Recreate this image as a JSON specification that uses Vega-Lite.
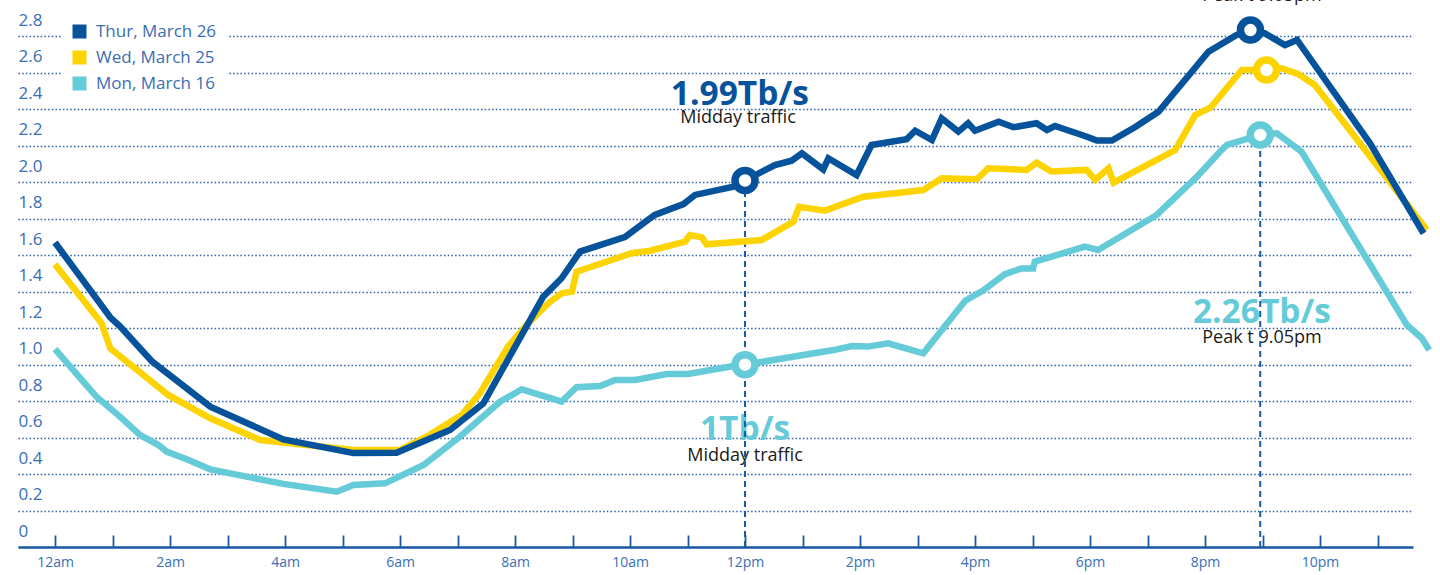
{
  "$schema": "https://vega.github.io/schema/vega-lite/v6.json",
  "width": 1395,
  "height": 547,
  "autosize": {"type": "none"},
  "padding": {"left": 18, "top": 0, "right": 27, "bottom": 28},
  "background": "white",
  "config": {"view": {"stroke": null}, "font": "Open Sans"},
  "datasets": {
    "traffic": [
      {"series": "Mon, March 16", "h": 0, "v": 1.085},
      {"series": "Mon, March 16", "h": 0.72, "v": 0.824},
      {"series": "Mon, March 16", "h": 1.13, "v": 0.715},
      {"series": "Mon, March 16", "h": 1.48, "v": 0.614},
      {"series": "Mon, March 16", "h": 1.8, "v": 0.559},
      {"series": "Mon, March 16", "h": 1.94, "v": 0.523},
      {"series": "Mon, March 16", "h": 2.29, "v": 0.481},
      {"series": "Mon, March 16", "h": 2.7, "v": 0.426},
      {"series": "Mon, March 16", "h": 3.97, "v": 0.346},
      {"series": "Mon, March 16", "h": 4.9, "v": 0.303},
      {"series": "Mon, March 16", "h": 5.19, "v": 0.34},
      {"series": "Mon, March 16", "h": 5.74, "v": 0.349},
      {"series": "Mon, March 16", "h": 6.41, "v": 0.45},
      {"series": "Mon, March 16", "h": 7.04, "v": 0.605},
      {"series": "Mon, March 16", "h": 7.74, "v": 0.797},
      {"series": "Mon, March 16", "h": 8.12, "v": 0.865},
      {"series": "Mon, March 16", "h": 8.81, "v": 0.797},
      {"series": "Mon, March 16", "h": 9.07, "v": 0.876},
      {"series": "Mon, March 16", "h": 9.48, "v": 0.883},
      {"series": "Mon, March 16", "h": 9.74, "v": 0.916},
      {"series": "Mon, March 16", "h": 10.09, "v": 0.916},
      {"series": "Mon, March 16", "h": 10.64, "v": 0.949},
      {"series": "Mon, March 16", "h": 11.01, "v": 0.949},
      {"series": "Mon, March 16", "h": 11.8, "v": 0.993},
      {"series": "Mon, March 16", "h": 12, "v": 1.0},
      {"series": "Mon, March 16", "h": 13.54, "v": 1.08},
      {"series": "Mon, March 16", "h": 13.86, "v": 1.102},
      {"series": "Mon, March 16", "h": 14.14, "v": 1.099},
      {"series": "Mon, March 16", "h": 14.49, "v": 1.117},
      {"series": "Mon, March 16", "h": 15.1, "v": 1.062},
      {"series": "Mon, March 16", "h": 15.83, "v": 1.351},
      {"series": "Mon, March 16", "h": 16.14, "v": 1.406},
      {"series": "Mon, March 16", "h": 16.52, "v": 1.497},
      {"series": "Mon, March 16", "h": 16.81, "v": 1.528},
      {"series": "Mon, March 16", "h": 17.01, "v": 1.528},
      {"series": "Mon, March 16", "h": 17.04, "v": 1.565},
      {"series": "Mon, March 16", "h": 17.91, "v": 1.647},
      {"series": "Mon, March 16", "h": 18.14, "v": 1.629},
      {"series": "Mon, March 16", "h": 19.16, "v": 1.821},
      {"series": "Mon, March 16", "h": 19.86, "v": 2.031},
      {"series": "Mon, March 16", "h": 20.26, "v": 2.168},
      {"series": "Mon, March 16", "h": 20.38, "v": 2.205},
      {"series": "Mon, March 16", "h": 20.96, "v": 2.26},
      {"series": "Mon, March 16", "h": 21.25, "v": 2.269},
      {"series": "Mon, March 16", "h": 21.68, "v": 2.168},
      {"series": "Mon, March 16", "h": 23.51, "v": 1.218},
      {"series": "Mon, March 16", "h": 23.77, "v": 1.145},
      {"series": "Mon, March 16", "h": 23.9, "v": 1.08},
      {"series": "Wed, March 25", "h": 0, "v": 1.55},
      {"series": "Wed, March 25", "h": 0.81, "v": 1.227},
      {"series": "Wed, March 25", "h": 0.96, "v": 1.09},
      {"series": "Wed, March 25", "h": 1.97, "v": 0.834},
      {"series": "Wed, March 25", "h": 2.7, "v": 0.706},
      {"series": "Wed, March 25", "h": 3.57, "v": 0.587},
      {"series": "Wed, March 25", "h": 5.19, "v": 0.532},
      {"series": "Wed, March 25", "h": 6.0, "v": 0.532},
      {"series": "Wed, March 25", "h": 6.46, "v": 0.605},
      {"series": "Wed, March 25", "h": 7.07, "v": 0.724},
      {"series": "Wed, March 25", "h": 7.39, "v": 0.843},
      {"series": "Wed, March 25", "h": 7.88, "v": 1.099},
      {"series": "Wed, March 25", "h": 8.2, "v": 1.218},
      {"series": "Wed, March 25", "h": 8.58, "v": 1.337},
      {"series": "Wed, March 25", "h": 8.81, "v": 1.391},
      {"series": "Wed, March 25", "h": 8.99, "v": 1.4},
      {"series": "Wed, March 25", "h": 9.07, "v": 1.51},
      {"series": "Wed, March 25", "h": 10.03, "v": 1.611},
      {"series": "Wed, March 25", "h": 10.35, "v": 1.625},
      {"series": "Wed, March 25", "h": 10.96, "v": 1.675},
      {"series": "Wed, March 25", "h": 11.04, "v": 1.711},
      {"series": "Wed, March 25", "h": 11.25, "v": 1.698},
      {"series": "Wed, March 25", "h": 11.33, "v": 1.66},
      {"series": "Wed, March 25", "h": 12.29, "v": 1.684},
      {"series": "Wed, March 25", "h": 12.84, "v": 1.784},
      {"series": "Wed, March 25", "h": 12.94, "v": 1.866},
      {"series": "Wed, March 25", "h": 13.39, "v": 1.845},
      {"series": "Wed, March 25", "h": 14.06, "v": 1.921},
      {"series": "Wed, March 25", "h": 15.1, "v": 1.958},
      {"series": "Wed, March 25", "h": 15.42, "v": 2.022},
      {"series": "Wed, March 25", "h": 16.03, "v": 2.017},
      {"series": "Wed, March 25", "h": 16.23, "v": 2.077},
      {"series": "Wed, March 25", "h": 16.9, "v": 2.068},
      {"series": "Wed, March 25", "h": 17.07, "v": 2.108},
      {"series": "Wed, March 25", "h": 17.33, "v": 2.059},
      {"series": "Wed, March 25", "h": 17.94, "v": 2.068},
      {"series": "Wed, March 25", "h": 18.09, "v": 2.013},
      {"series": "Wed, March 25", "h": 18.32, "v": 2.077},
      {"series": "Wed, March 25", "h": 18.41, "v": 1.998},
      {"series": "Wed, March 25", "h": 19.48, "v": 2.177},
      {"series": "Wed, March 25", "h": 19.83, "v": 2.369},
      {"series": "Wed, March 25", "h": 20.1, "v": 2.411},
      {"series": "Wed, March 25", "h": 20.64, "v": 2.616},
      {"series": "Wed, March 25", "h": 21.07, "v": 2.616},
      {"series": "Wed, March 25", "h": 21.33, "v": 2.625},
      {"series": "Wed, March 25", "h": 21.62, "v": 2.594},
      {"series": "Wed, March 25", "h": 21.91, "v": 2.534},
      {"series": "Wed, March 25", "h": 23.86, "v": 1.739},
      {"series": "Thur, March 26", "h": 0, "v": 1.67},
      {"series": "Thur, March 26", "h": 0.96, "v": 1.26},
      {"series": "Thur, March 26", "h": 1.13, "v": 1.21},
      {"series": "Thur, March 26", "h": 1.68, "v": 1.02},
      {"series": "Thur, March 26", "h": 2.7, "v": 0.77},
      {"series": "Thur, March 26", "h": 3.97, "v": 0.59},
      {"series": "Thur, March 26", "h": 5.19, "v": 0.515},
      {"series": "Thur, March 26", "h": 5.94, "v": 0.517},
      {"series": "Thur, March 26", "h": 6.87, "v": 0.642},
      {"series": "Thur, March 26", "h": 7.45, "v": 0.788},
      {"series": "Thur, March 26", "h": 8.49, "v": 1.373},
      {"series": "Thur, March 26", "h": 8.81, "v": 1.474},
      {"series": "Thur, March 26", "h": 9.13, "v": 1.62},
      {"series": "Thur, March 26", "h": 9.91, "v": 1.7},
      {"series": "Thur, March 26", "h": 10.23, "v": 1.775},
      {"series": "Thur, March 26", "h": 10.43, "v": 1.821},
      {"series": "Thur, March 26", "h": 10.93, "v": 1.881},
      {"series": "Thur, March 26", "h": 11.13, "v": 1.931},
      {"series": "Thur, March 26", "h": 11.8, "v": 1.976},
      {"series": "Thur, March 26", "h": 12, "v": 2.01},
      {"series": "Thur, March 26", "h": 12.52, "v": 2.095},
      {"series": "Thur, March 26", "h": 12.81, "v": 2.119},
      {"series": "Thur, March 26", "h": 12.99, "v": 2.159},
      {"series": "Thur, March 26", "h": 13.36, "v": 2.071},
      {"series": "Thur, March 26", "h": 13.45, "v": 2.132},
      {"series": "Thur, March 26", "h": 13.94, "v": 2.04},
      {"series": "Thur, March 26", "h": 14.2, "v": 2.205},
      {"series": "Thur, March 26", "h": 14.81, "v": 2.236},
      {"series": "Thur, March 26", "h": 14.96, "v": 2.283},
      {"series": "Thur, March 26", "h": 15.25, "v": 2.232},
      {"series": "Thur, March 26", "h": 15.42, "v": 2.351},
      {"series": "Thur, March 26", "h": 15.71, "v": 2.278},
      {"series": "Thur, March 26", "h": 15.88, "v": 2.324},
      {"series": "Thur, March 26", "h": 16.0, "v": 2.283},
      {"series": "Thur, March 26", "h": 16.41, "v": 2.333},
      {"series": "Thur, March 26", "h": 16.67, "v": 2.302},
      {"series": "Thur, March 26", "h": 17.07, "v": 2.324},
      {"series": "Thur, March 26", "h": 17.25, "v": 2.287},
      {"series": "Thur, March 26", "h": 17.39, "v": 2.309},
      {"series": "Thur, March 26", "h": 17.91, "v": 2.254},
      {"series": "Thur, March 26", "h": 18.12, "v": 2.229},
      {"series": "Thur, March 26", "h": 18.38, "v": 2.229},
      {"series": "Thur, March 26", "h": 18.78, "v": 2.302},
      {"series": "Thur, March 26", "h": 19.19, "v": 2.387},
      {"series": "Thur, March 26", "h": 20.06, "v": 2.716},
      {"series": "Thur, March 26", "h": 20.55, "v": 2.808},
      {"series": "Thur, March 26", "h": 20.79, "v": 2.835},
      {"series": "Thur, March 26", "h": 21.04, "v": 2.817},
      {"series": "Thur, March 26", "h": 21.39, "v": 2.753},
      {"series": "Thur, March 26", "h": 21.6, "v": 2.781},
      {"series": "Thur, March 26", "h": 22.87, "v": 2.214},
      {"series": "Thur, March 26", "h": 23.8, "v": 1.72}
    ],
    "big": [
      {"h": 11.91, "v": 2.424, "label": "1.99Tb/s", "series": "Thur, March 26"},
      {"h": 12.0, "v": 0.587, "label": "1Tb/s", "series": "Mon, March 16"},
      {"h": 20.99, "v": 1.23, "label": "2.26Tb/s", "series": "Mon, March 16"}
    ],
    "small": [
      {"h": 11.88, "v": 2.324, "label": "Midday traffic"},
      {"h": 12.0, "v": 0.473, "label": "Midday traffic"},
      {"h": 20.99, "v": 1.117, "label": "Peak t 9.05pm"},
      {"h": 20.99, "v": 2.997, "label": "Peak t 9.05pm"}
    ],
    "rules": [
      {"h": 12, "v": 0, "v1": 1.96},
      {"h": 20.96, "v": 0, "v1": 2.2}
    ],
    "dots": [
      {"h": 12, "v": 2.01, "series": "Thur, March 26"},
      {"h": 12, "v": 1.0, "series": "Mon, March 16"},
      {"h": 20.79, "v": 2.835, "series": "Thur, March 26"},
      {"h": 21.07, "v": 2.616, "series": "Wed, March 25"},
      {"h": 20.96, "v": 2.26, "series": "Mon, March 16"}
    ]
  },
  "encoding": {
    "x": {"field": "h", "type": "quantitative", "scale": {"domain": [-0.6435, 23.617], "nice": false, "zero": false},
      "axis": {"values": [0,1,2,3,4,5,6,7,8,9,10,11,12,13,14,15,16,17,18,19,20,21,22,23], "title": null, "grid": false,
        "domainColor": "#1A5AA5", "domainWidth": 2.5, "tickColor": "#1A5AA5", "tickWidth": 1.8, "tickSize": -12,
        "labelPadding": 20, "labelColor": "#3A6EB5", "labelFontSize": 14, "labelFont": "Open Sans", "labelFlush": false, "labelOverlap": false,
        "labelExpr": "datum.value % 2 != 0 ? '' : datum.value == 0 ? '12am' : datum.value < 12 ? datum.value + 'am' : datum.value == 12 ? '12pm' : (datum.value - 12) + 'pm'"}},
    "y": {"field": "v", "type": "quantitative", "scale": {"domain": [0, 3], "nice": false, "zero": false},
      "axis": {"values": [0,0.2,0.4,0.6,0.8,1,1.2,1.4,1.6,1.8,2,2.2,2.4,2.6,2.8], "title": null, "domain": false, "ticks": false,
        "grid": true, "gridColor": "#2A62AC", "gridDash": [1.5, 2.2], "gridWidth": 1.5,
        "labelAlign": "left", "labelBaseline": "alphabetic", "labelOffset": -11, "labelPadding": 0,
        "labelColor": "#3A6EB5", "labelFontSize": 17, "labelFont": "Open Sans", "labelFlush": false, "labelOverlap": false,
        "labelExpr": "datum.value == 0 ? '0' : format(datum.value, '.1f')"}}
  },
  "layer": [
    {
      "data": {"name": "small"},
      "mark": {"type": "text", "font": "Open Sans", "fontSize": 18, "color": "#1a1a1a", "align": "center", "baseline": "alphabetic"},
      "encoding": {
        "text": {"field": "label"}
      }
    },
    {
      "data": {"name": "big"},
      "mark": {"type": "text", "font": "Open Sans", "fontSize": 33.5, "fontWeight": "bold", "align": "center", "baseline": "alphabetic"},
      "encoding": {
        "text": {"field": "label"},
        "color": {"field": "series", "type": "nominal",
          "scale": {"domain": ["Thur, March 26", "Wed, March 25", "Mon, March 16"], "range": ["#06529B", "#FDD302", "#66CBD8"]},
          "legend": {"orient": "none", "legendX": 43, "legendY": 13, "direction": "vertical", "title": null,
            "symbolType": "square", "symbolSize": 196, "symbolStrokeWidth": 0, "symbolOpacity": 1,
            "labelFontSize": 17, "labelColor": "#3A6EB5", "labelFont": "Open Sans", "labelOffset": 8,
            "fillColor": "white", "padding": 10, "rowPadding": 8}}
      }
    },
    {
      "data": {"name": "rules"},
      "mark": {"type": "rule", "strokeDash": [6, 4], "strokeWidth": 2, "color": "#1A5AA5"},
      "encoding": {
        "y2": {"field": "v1"}
      }
    },
    {
      "data": {"name": "traffic"},
      "mark": {"type": "line", "strokeWidth": 6.5, "strokeJoin": "miter", "strokeMiterLimit": 4},
      "encoding": {
        "color": {"field": "series", "type": "nominal",
          "scale": {"domain": ["Thur, March 26", "Wed, March 25", "Mon, March 16"], "range": ["#06529B", "#FDD302", "#66CBD8"]},
          "legend": null}
      }
    },
    {
      "data": {"name": "dots"},
      "mark": {"type": "point", "shape": "circle", "filled": true, "fill": "white", "size": 400, "strokeWidth": 7.5, "opacity": 1},
      "encoding": {
        "stroke": {"field": "series", "type": "nominal",
          "scale": {"domain": ["Thur, March 26", "Wed, March 25", "Mon, March 16"], "range": ["#06529B", "#FDD302", "#66CBD8"]},
          "legend": null}
      }
    }
  ]
}
